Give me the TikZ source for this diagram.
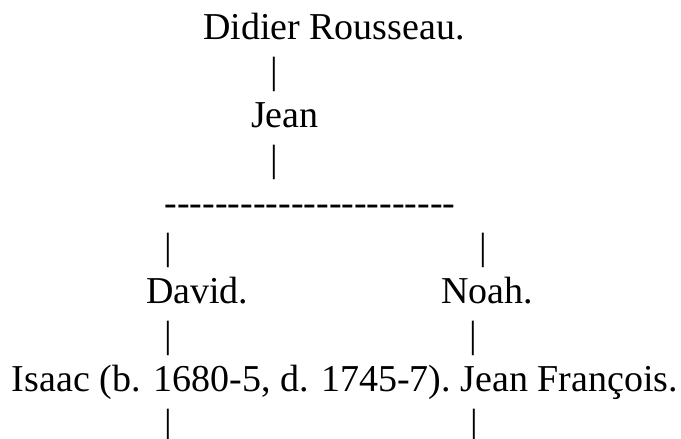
\documentclass[tikz,border=0pt]{standalone}
\usepackage{fontspec}
\setmainfont{Liberation Serif}
\newcommand{\hy}{\mbox{-}}
\begin{document}
\begin{tikzpicture}[x=1pt,y=-1pt,
  txt/.style={inner sep=0pt, outer sep=0pt, anchor=base west, font=\fontsize{38}{44}\selectfont},
  bar/.style={inner sep=0pt, outer sep=0pt, anchor=base, font=\fontsize{38}{44}\selectfont}]
\useasboundingbox[fill=white] (0,0) rectangle (681,439);
% row 1
\node[txt] (didier) at (203,39) {Didier Rousseau.};
\node[bar] (b1) at (274,83) {|};
\node[txt] (jean) at (251,127) {Jean};
\node[bar] (b2) at (274,171) {|};
\node[txt] (dashes) at (164.5,215) {\hy\hy\hy\hy\hy\hy\hy\hy\hy\hy\hy\hy\hy\hy\hy\hy\hy\hy\hy\hy\hy\hy\hy};
\node[bar] (b3a) at (168,259) {|};
\node[bar] (b3b) at (483,259) {|};
\node[txt] (david) at (146,303) {David.};
\node[txt] (noah) at (441,303) {Noah.};
\node[bar] (b4a) at (168,347) {|};
\node[bar] (b4b) at (473,347) {|};
\node[txt] (isaac) at (12,391) {Isaac (b. 1680-5, d. 1745-7).};
\node[txt] (jf) at ([xshift=9.5pt]isaac.base east) {Jean François.};
\node[bar] (b5a) at (168,435) {|};
\node[bar] (b5b) at (474,435) {|};
\end{tikzpicture}
\end{document}
